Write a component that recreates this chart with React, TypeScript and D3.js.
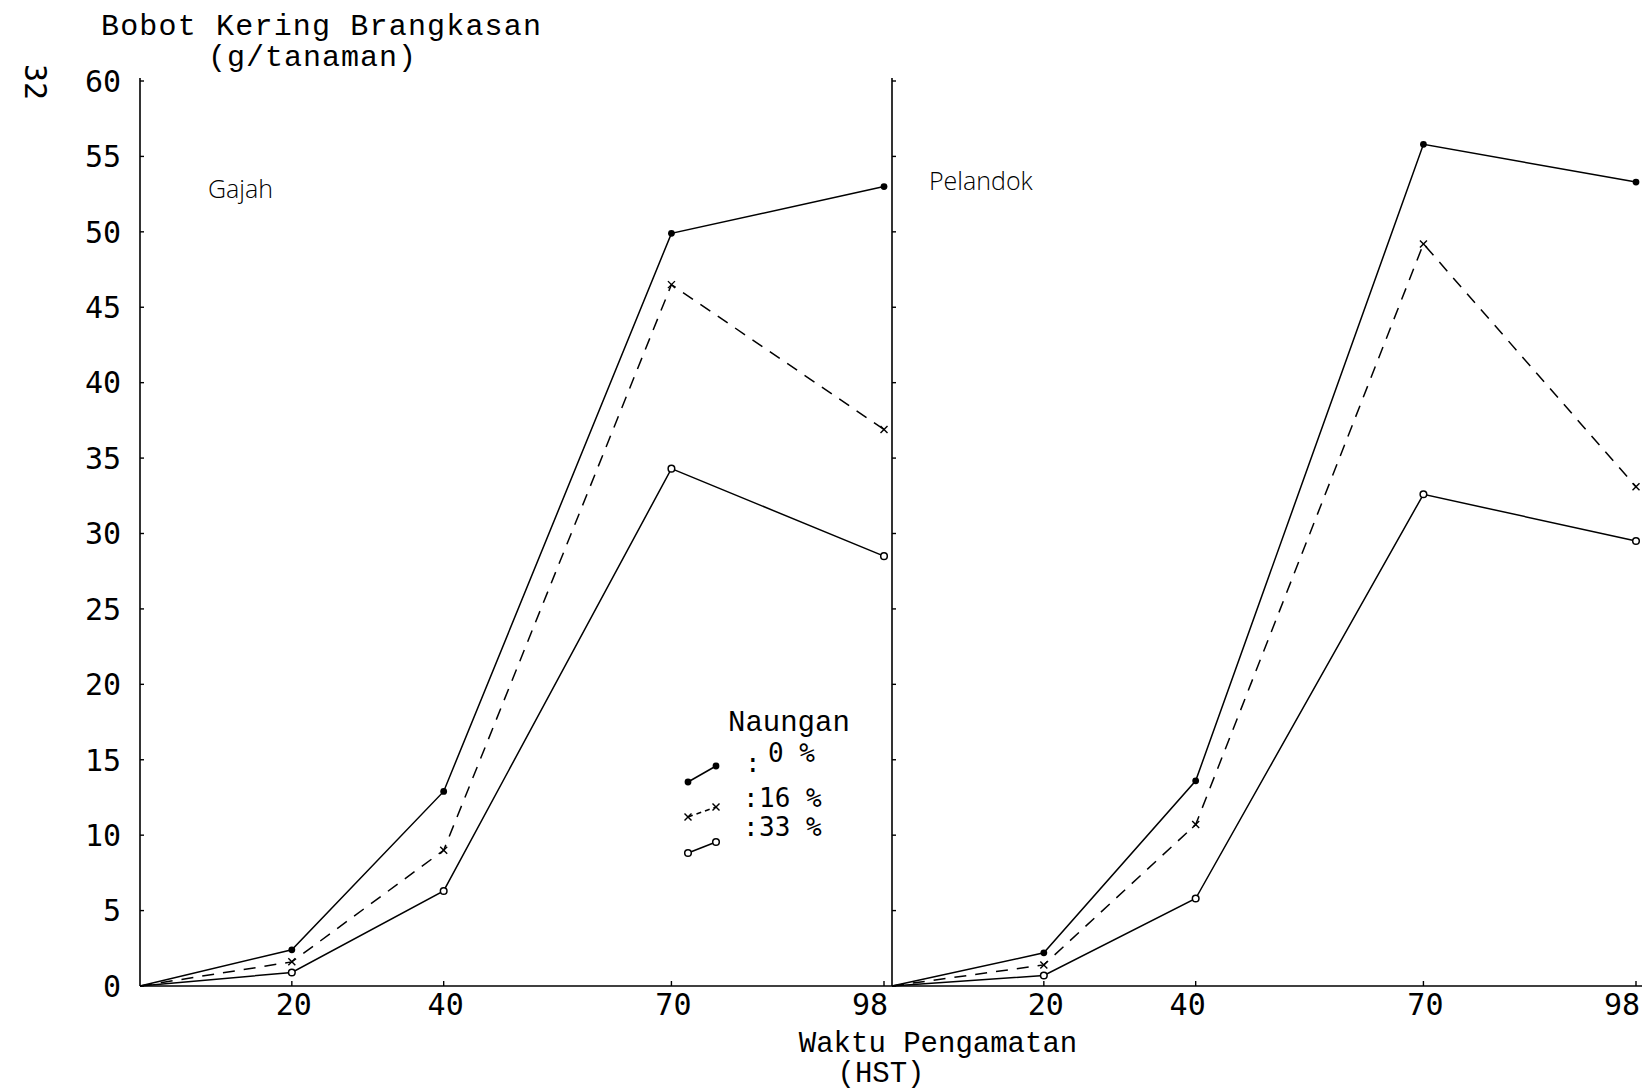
import * as d3 from "d3";

// waktu pengamatan (HST) dan bobot kering brangkasan (g/tanaman)
const days = [0, 20, 40, 70, 98];
const xTickDays = [20, 40, 70, 98];
const yTicks = [0, 5, 10, 15, 20, 25, 30, 35, 40, 45, 50, 55, 60];

const gajah0 = [0, 2.4, 12.9, 49.9, 53.0];
const gajah16 = [0, 1.6, 9.0, 46.5, 36.9];
const gajah33 = [0, 0.9, 6.3, 34.3, 28.5];

const pelandok0 = [0, 2.2, 13.6, 55.8, 53.3];
const pelandok16 = [0, 1.4, 10.7, 49.2, 33.1];
const pelandok33 = [0, 0.7, 5.8, 32.6, 29.5];

const shadeLabels = ["0 %", "16 %", "33 %"];
const varieties = ["Gajah", "Pelandok"];

const W = 1643, H = 1092;
const mono = "'Liberation Mono', 'DejaVu Sans Mono', monospace";
const numFont = "'DejaVu Sans Mono', monospace";
const hand = "'Open Sans', 'Noto Sans', sans-serif";

const y = d3.scaleLinear().domain([0, 60]).range([986, 81]);
const panels = [
  { name: varieties[0], x0: 140, series: [gajah0, gajah16, gajah33], labelX: 208, labelY: 198 },
  { name: varieties[1], x0: 892, series: [pelandok0, pelandok16, pelandok33], labelX: 929, labelY: 190 },
];

function Marker({ kind, cx, cy }: { kind: number; cx: number; cy: number }) {
  if (kind === 0) return <circle cx={cx} cy={cy} r={3.4} fill="#000" />;
  if (kind === 1)
    return (
      <g stroke="#000" strokeWidth={1.4}>
        <line x1={cx - 3.5} y1={cy - 3.5} x2={cx + 3.5} y2={cy + 3.5} />
        <line x1={cx - 3.5} y1={cy + 3.5} x2={cx + 3.5} y2={cy - 3.5} />
      </g>
    );
  return <circle cx={cx} cy={cy} r={3.3} fill="#fff" stroke="#000" strokeWidth={1.5} />;
}

export default function App() {
  return (
    <svg width={W} height={H} style={{ position: "absolute", left: 0, top: 0, background: "#fff" }}>
      <rect width={W} height={H} fill="#fff" />
      {/* page number */}
      <text transform="translate(25,82) rotate(90)" fontFamily={numFont} fontSize={30} textAnchor="middle" fill="#000">32</text>

      {/* y title */}
      <text x={101} y={35} fontFamily={mono} fontSize={30} textLength={440} fill="#000">Bobot Kering Brangkasan</text>
      <text x={208} y={66} fontFamily={mono} fontSize={30} textLength={208} fill="#000">(g/tanaman)</text>

      {/* baseline */}
      <line x1={140} x2={1642} y1={y(0)} y2={y(0)} stroke="#000" strokeWidth={1.6} />

      {panels.map((p, pi) => {
        const x = d3.scaleLinear().domain([0, 98]).range([p.x0, p.x0 + 744]);
        const line = d3.line<number>().x((_, i) => x(days[i])).y((v) => y(v));
        return (
          <g key={p.name}>
            <line x1={p.x0} x2={p.x0} y1={y(0)} y2={y(60) - 3} stroke="#000" strokeWidth={1.6} />
            {yTicks.map((t) => (
              <line key={t} x1={p.x0} x2={p.x0 + 4} y1={y(t)} y2={y(t)} stroke="#000" strokeWidth={1.4} />
            ))}
            {pi === 0 &&
              yTicks.map((t) => (
                <text key={t} x={121} y={y(t)} dy="0.36em" textAnchor="end" fontFamily={numFont} fontSize={30} fill="#000">
                  {t}
                </text>
              ))}
            {xTickDays.map((d, i) => (
              <g key={d}>
                <line x1={x(d)} x2={x(d)} y1={y(0)} y2={y(0) - 5} stroke="#000" strokeWidth={1.4} />
                <text
                  x={x(d) + (i === xTickDays.length - 1 ? -14 : pi === 1 && i === 1 ? -8 : 2)}
                  y={y(0) + 29}
                  textAnchor="middle"
                  fontFamily={numFont}
                  fontSize={30}
                  fill="#000"
                >
                  {d}
                </text>
              </g>
            ))}
            {p.series.map((s, k) => (
              <g key={k}>
                <path
                  d={line(s) || ""}
                  fill="none"
                  stroke="#000"
                  strokeWidth={1.5}
                  strokeDasharray={k === 1 ? "12 9" : undefined}
                />
                {s.map((v, i) => (i === 0 ? null : <Marker key={i} kind={k} cx={x(days[i])} cy={y(v)} />))}
              </g>
            ))}
            <text x={p.labelX} y={p.labelY} fontFamily={hand} fontWeight={300} fontSize={25} fill="#000">
              {p.name}
            </text>
          </g>
        );
      })}

      {/* legend */}
      <text x={728} y={731} fontFamily={mono} fontSize={29} fill="#000">Naungan</text>
      {shadeLabels.map((lab, k) => {
        const rowY = [762, 807, 836][k];
        const sy = [782, 817, 853][k];
        const ey = [766, 807, 842][k];
        const x1 = 688, x2 = 716;
        return (
          <g key={lab}>
            <line x1={x1} y1={sy} x2={x2} y2={ey} stroke="#000" strokeWidth={1.5} strokeDasharray={k === 1 ? "5 4" : undefined} />
            <Marker kind={k} cx={x1} cy={sy} />
            <Marker kind={k} cx={x2} cy={ey} />
            <text x={k === 0 ? 745 : 743} y={k === 0 ? 772 : rowY} fontFamily={numFont} fontSize={26} fill="#000">:</text>
            <text x={k === 0 ? 768 : 759} y={rowY} fontFamily={numFont} fontSize={26} fill="#000">
              {lab}
            </text>
          </g>
        );
      })}

      {/* x title */}
      <text x={938} y={1052} textAnchor="middle" fontFamily={mono} fontSize={29} fill="#000">Waktu Pengamatan</text>
      <text x={881} y={1082} textAnchor="middle" fontFamily={mono} fontSize={29} fill="#000">(HST)</text>
    </svg>
  );
}
